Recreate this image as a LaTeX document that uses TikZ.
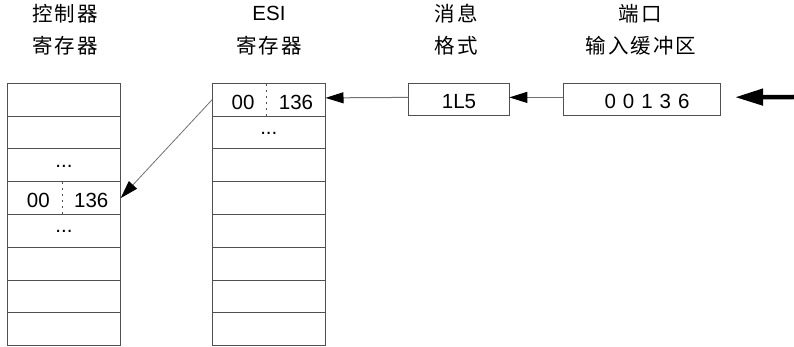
\documentclass[tikz,border=0pt]{standalone}
\usepackage{fontspec}
\setmainfont{Liberation Sans}
\newfontfamily\cjk[LetterSpace=10]{Noto Sans CJK SC}
\usetikzlibrary{arrows.meta}
\definecolor{boxgray}{HTML}{505050}
\definecolor{linegray}{HTML}{707070}
\begin{document}
\begin{tikzpicture}[x=1pt,y=-1pt,
  cell/.style={draw=boxgray, line width=0.9pt, minimum width=113.4pt, minimum height=32.8pt, inner sep=0pt, outer sep=0pt},
  box/.style={draw=boxgray, line width=0.9pt, minimum height=32pt, inner sep=0pt, outer sep=0pt},
  txt/.style={font=\fontsize{20.5}{22}\selectfont, inner sep=0pt, anchor=base},
  hdr/.style={font=\fontsize{20.5}{22}\selectfont\cjk, inner sep=0pt, anchor=base},
  sepline/.style={draw=boxgray, line width=0.8pt, dash pattern=on 2pt off 4pt},
  conn/.style={draw=linegray, line width=1pt, -{Triangle[length=18pt,width=11pt,black]}},
  bigarrow/.style={draw=black, line width=4.5pt, -{Triangle[length=28pt,width=16pt]}},
]
\useasboundingbox (0,0) rectangle (794,347);

% headers
\node[hdr] (h1a) at (65,22) {控制器};
\node[hdr] (h1b) at (65,54) {寄存器};
\node[txt] (h2a) at (269,21) {ESI};
\node[hdr] (h2b) at (269,54) {寄存器};
\node[hdr] (h3a) at (456,22) {消息};
\node[hdr] (h3b) at (456,54) {格式};
\node[hdr] (h4a) at (640,22) {端口};
\node[hdr] (h4b) at (641,54) {输入缓冲区};

% register columns
\foreach \i in {1,...,8} {
  \node[cell] (L\i) at (64,{99.7+32.8*(\i-1)}) {};
  \node[cell] (E\i) at (268.8,{99.7+32.8*(\i-1)}) {};
}

% ESI contents
\node[txt] (e00) at (243,109.5) {00};
\node[txt] (e136) at (296,109.5) {136};
\draw[sepline] (266.7,84) -- (266.7,116.1);
\node[txt] (edots) at (E2.center) [yshift=-2pt] {...};

% controller contents
\node[txt] (ldots1) at (L3.center) [yshift=-2pt] {...};
\node[txt] (l00) at (38.3,207.9) {00};
\node[txt] (l136) at (91.3,207.9) {136};
\draw[sepline] (62,182.4) -- (62,214.5);
\node[txt] (ldots2) at (L5.center) [yshift=-2pt] {...};

% message format and port buffer
\node[box, minimum width=100.6pt] (msg) at (459,99.2) {};
\node[txt] (msgt) at (459,109) {1L5};
\node[box, minimum width=156.7pt] (port) at (641.7,99.2) {};
\node[txt] (portt) at (647,109) {0\hspace{7pt}0\hspace{7pt}1\hspace{7pt}3\hspace{7pt}6};

% connectors
\coordinate (in) at (794,97);
\draw[bigarrow] (in) -- ([xshift=15pt,yshift=2pt]port.east);
\draw[conn] ([yshift=1.8pt]port.west) -- ([yshift=1.8pt]msg.east);
\draw[conn] ([yshift=1.8pt]msg.west) -- ([yshift=1.8pt]E1.east);
\draw[conn, line width=0.8pt] (E1.west) -- (L4.east);
\end{tikzpicture}
\end{document}
